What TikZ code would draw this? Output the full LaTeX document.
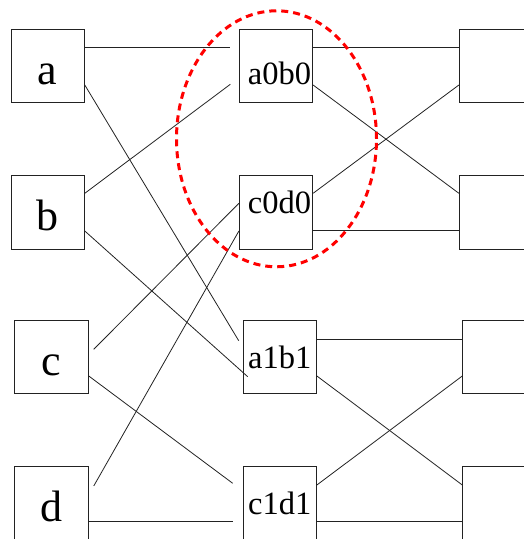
\documentclass[tikz,border=0pt]{standalone}
\usepackage{fontspec}
\setmainfont{Liberation Serif}
\definecolor{pcFF0000}{HTML}{FF0000}
\definecolor{pc222222}{HTML}{222222}

\tikzset{
  cell/.style={draw=pc222222, line width=0.9bp, inner sep=0,
    minimum width=73.3bp, minimum height=73.3bp},
  lettercell/.style={cell, font=\fontsize{44bp}{48bp}\selectfont,
    text height=55bp, text depth=18.3bp},
  paircell/.style={cell, font=\fontsize{32.5bp}{36bp}\selectfont},
  wire/.style={draw=pc222222, line width=0.8bp},
  ring/.style={draw=pcFF0000, line width=3bp, dash pattern=on 7bp off 5bp}
}

\begin{document}
\begin{tikzpicture}
\useasboundingbox (0bp,0bp) rectangle (524bp,539bp);
% inputs
\node[lettercell] (a) at (47.7bp,473bp) {a};
\node[lettercell] (b) at (47.7bp,326.5bp) {b};
\node[lettercell, minimum width=74bp] (c) at (51.3bp,181.7bp) {c};
\node[lettercell, minimum width=74bp] (d) at (51.3bp,35.7bp) {d};
% middle stage
\node[paircell, text height=55bp, text depth=18.3bp] (a0b0) at (276bp,473bp) {\hspace*{7bp}a0b0};
\node[paircell, text height=37.3bp, text depth=36bp] (c0d0) at (276bp,326.5bp) {\hspace*{7bp}c0d0};
\node[paircell, text height=47.5bp, text depth=25.8bp] (a1b1) at (279.8bp,181.7bp) {a1b1};
\node[paircell, text height=47.5bp, text depth=25.8bp] (c1d1) at (279.8bp,35.7bp) {c1d1};
% outputs
\node[cell] (r1) at (496bp,473bp) {};
\node[cell] (r2) at (496bp,326.5bp) {};
\node[cell] (r3) at (499.4bp,181.7bp) {};
\node[cell] (r4) at (499.4bp,35.7bp) {};

\draw[wire] ([yshift=18.3bp]a.east) -- ([shift={(-8.6bp,18.3bp)}]a0b0.west);
\draw[wire] ([yshift=-19bp]a.east) -- ([shift={(-4bp,16.6bp)}]a1b1.west);
\draw[wire] ([yshift=19.2bp]b.east) -- ([shift={(-8.6bp,-18.3bp)}]a0b0.west);
\draw[wire] ([yshift=-18.5bp]b.east) -- ([shift={(5bp,-19.4bp)}]a1b1.west);
\draw[wire] ([shift={(5bp,8bp)}]c.east) -- ([yshift=9.2bp]c0d0.west);
\draw[wire] ([yshift=-18.7bp]c.east) -- ([shift={(-10bp,20bp)}]c1d1.west);
\draw[wire] ([shift={(5bp,17.3bp)}]d.east) -- ([yshift=-18.5bp]c0d0.west);
\draw[wire] ([yshift=-18.4bp]d.east) -- ([shift={(-10bp,-18.4bp)}]c1d1.west);

\draw[wire] ([yshift=18.3bp]a0b0.east) -- ([yshift=18.3bp]r1.west);
\draw[wire] ([yshift=-19bp]a0b0.east) -- ([yshift=19.2bp]r2.west);
\draw[wire] ([yshift=19.2bp]c0d0.east) -- ([yshift=-19bp]r1.west);
\draw[wire] ([yshift=-17.5bp]c0d0.east) -- ([yshift=-17.5bp]r2.west);
\draw[wire] ([yshift=18.3bp]a1b1.east) -- ([yshift=18.3bp]r3.west);
\draw[wire] ([yshift=-18.7bp]a1b1.east) -- ([yshift=18.3bp]r4.west);
\draw[wire] ([yshift=18.3bp]c1d1.east) -- ([yshift=-18.7bp]r3.west);
\draw[wire] ([yshift=-18.4bp]c1d1.east) -- ([yshift=-18.4bp]r4.west);

% grouped pair
\draw[ring] (276.5bp,400.2bp) ellipse [x radius=100bp, y radius=128bp];
\end{tikzpicture}
\end{document}
